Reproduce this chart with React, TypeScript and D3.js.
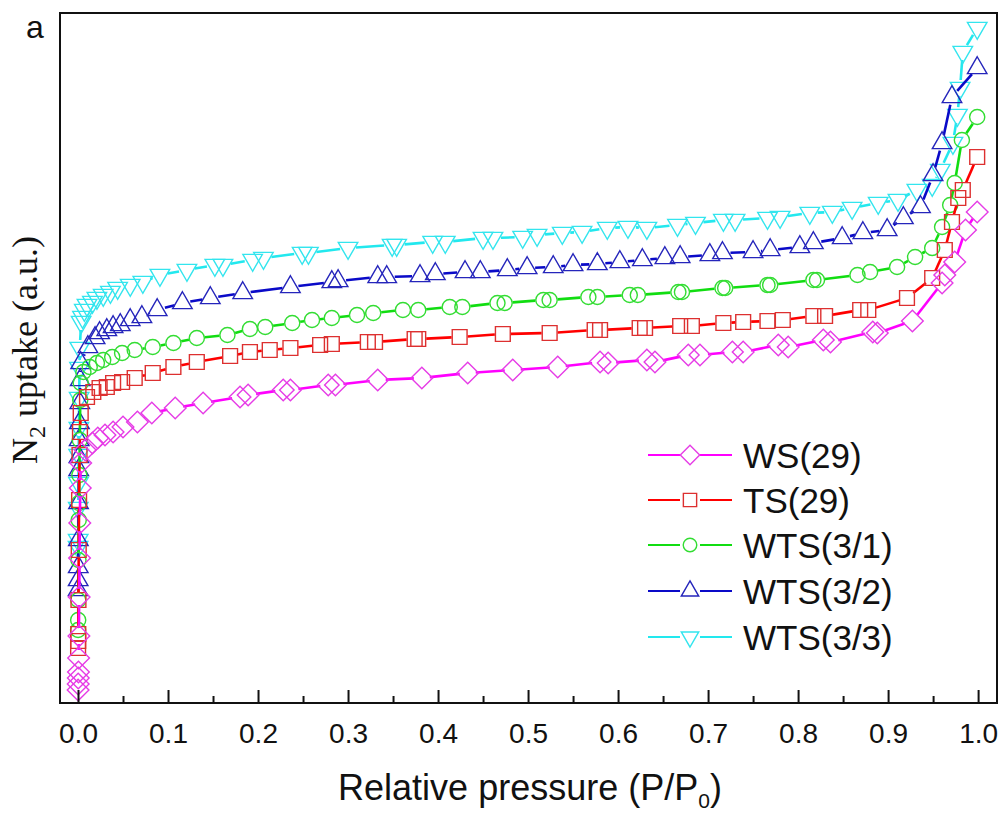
import React, { useEffect, useRef } from 'react';
import * as d3 from 'd3';

// relative pressure (P/P0) and N2 uptake (a.u.)
const wsP = [0.0001, 0.0002, 0.0003, 0.0005, 0.0007, 0.001, 0.0013, 0.0017, 0.002, 0.0025, 0.003,
  0.008, 0.016, 0.022, 0.030, 0.039, 0.050, 0.066, 0.082, 0.108, 0.139,
  0.180, 0.189, 0.228, 0.236, 0.278, 0.286, 0.333, 0.382, 0.433, 0.483,
  0.533, 0.580, 0.589, 0.632, 0.641, 0.678, 0.691, 0.727, 0.739, 0.778,
  0.789, 0.828, 0.836, 0.883, 0.888, 0.927, 0.960, 0.963, 0.974, 0.986, 0.999];
const wsV = [13, 19, 25, 31, 45, 67, 106, 145, 180, 215, 240,
  253, 260, 265, 268, 271, 276, 281, 290, 295, 300,
  306, 308, 313, 313, 318, 318, 323, 325, 330, 333,
  336, 341, 340, 343, 341, 348, 348, 351, 351, 358,
  356, 363, 361, 371, 370, 382, 420, 428, 441, 473, 491];

const tsP = [0.0001, 0.0002, 0.0003, 0.0005, 0.0008, 0.0012, 0.0017, 0.0022, 0.003,
  0.010, 0.017, 0.024, 0.032, 0.039, 0.049, 0.063, 0.083, 0.106, 0.132,
  0.169, 0.191, 0.213, 0.236, 0.269, 0.282, 0.322, 0.330, 0.374, 0.378,
  0.424, 0.472, 0.524, 0.574, 0.580, 0.624, 0.630, 0.669, 0.682, 0.717,
  0.739, 0.766, 0.783, 0.817, 0.830, 0.869, 0.878, 0.921, 0.949, 0.963,
  0.971, 0.978, 0.983, 0.999];
const tsV = [55, 62, 69, 103, 153, 203, 248, 271, 290,
  306, 311, 315, 316, 320, 321, 325, 330, 336, 341,
  347, 351, 353, 355, 358, 359, 361, 361, 364, 364,
  366, 369, 370, 373, 373, 375, 375, 377, 377, 380,
  381, 382, 383, 387, 387, 393, 393, 405, 425, 453,
  481, 505, 513, 546];

const wts31P = [0.0001, 0.0002, 0.0003, 0.0005, 0.0008, 0.0011, 0.0015, 0.002, 0.0025, 0.003,
  0.006, 0.013, 0.021, 0.028, 0.038, 0.049, 0.063, 0.083, 0.106, 0.132,
  0.166, 0.191, 0.208, 0.238, 0.260, 0.282, 0.310, 0.328, 0.361, 0.378,
  0.413, 0.427, 0.466, 0.474, 0.517, 0.524, 0.567, 0.577, 0.613, 0.622,
  0.667, 0.671, 0.716, 0.719, 0.766, 0.769, 0.817, 0.821, 0.866, 0.880,
  0.910, 0.930, 0.949, 0.960, 0.969, 0.974, 0.982, 0.999];
const wts31V = [73, 83, 103, 143, 183, 200, 228, 263, 303, 320,
  331, 336, 340, 343, 346, 350, 353, 356, 360, 365,
  368, 374, 376, 380, 383, 385, 388, 390, 393, 393,
  396, 396, 400, 400, 403, 403, 406, 406, 408, 408,
  411, 411, 415, 415, 418, 418, 423, 423, 428, 431,
  436, 446, 455, 476, 498, 520, 563, 586];

const wts32P = [0.0001, 0.0002, 0.0003, 0.0004, 0.0006, 0.0008, 0.001, 0.0013, 0.0016, 0.002, 0.0025, 0.003,
  0.011, 0.019, 0.024, 0.032, 0.039, 0.047, 0.058, 0.071, 0.088, 0.116,
  0.147, 0.183, 0.236, 0.282, 0.289, 0.333, 0.343, 0.380, 0.397, 0.430,
  0.447, 0.477, 0.499, 0.528, 0.550, 0.577, 0.602, 0.627, 0.652, 0.669,
  0.702, 0.716, 0.750, 0.769, 0.802, 0.817, 0.849, 0.872, 0.899, 0.917,
  0.936, 0.950, 0.960, 0.971, 0.999];
const wts32V = [113, 123, 136, 163, 200, 233, 246, 263, 280, 300, 323, 340,
  356, 365, 370, 373, 376, 378, 383, 386, 393, 400,
  405, 410, 416, 421, 422, 426, 426, 427, 429, 431,
  431, 433, 435, 436, 438, 439, 441, 443, 445, 446,
  448, 450, 451, 453, 456, 460, 465, 470, 473, 485,
  496, 528, 560, 606, 635];

const wts33P = [0.0001, 0.0002, 0.0003, 0.0005, 0.0007, 0.001, 0.0013, 0.0017, 0.002,
  0.0035, 0.005, 0.007, 0.010, 0.016, 0.021, 0.028, 0.036, 0.044, 0.058,
  0.072, 0.091, 0.121, 0.152, 0.161, 0.194, 0.206, 0.249, 0.256, 0.300,
  0.349, 0.354, 0.394, 0.408, 0.450, 0.461, 0.494, 0.510, 0.538, 0.560,
  0.588, 0.611, 0.632, 0.666, 0.686, 0.717, 0.730, 0.766, 0.780, 0.813,
  0.838, 0.860, 0.889, 0.911, 0.932, 0.949, 0.958, 0.972, 0.977, 0.980,
  0.983, 0.999];
const wts33V = [156, 163, 195, 220, 248, 275, 305, 335, 355,
  381, 386, 393, 398, 401, 405, 408, 411, 415, 418,
  421, 428, 433, 438, 438, 443, 445, 450, 450, 455,
  458, 458, 461, 461, 465, 465, 466, 468, 470, 471,
  475, 476, 475, 478, 480, 483, 483, 485, 486, 490,
  491, 495, 500, 503, 513, 518, 533, 560, 588, 615,
  651, 675];

const seriesNames = ['WS(29)', 'TS(29)', 'WTS(3/1)', 'WTS(3/2)', 'WTS(3/3)'];
const xTicks = [0, 0.1, 0.2, 0.3, 0.4, 0.5, 0.6, 0.7, 0.8, 0.9, 1.0];
const xMinorTicks = [0.05, 0.15, 0.25, 0.35, 0.45, 0.55, 0.65, 0.75, 0.85, 0.95];

const App = () => {
  const svgRef = useRef(null);

  useEffect(() => {
    const W = 1003;
    const H = 814;
    const svg = d3.select(svgRef.current);
    svg.selectAll('*').remove();
    svg.attr('width', W).attr('height', H).attr('viewBox', `0 0 ${W} ${H}`);

    const left = 60, right = 997, top = 13, bottom = 703;
    const sans = "'Liberation Sans', Arial, sans-serif";
    const serif = "'Liberation Serif', 'Times New Roman', serif";

    const x = d3.scaleLinear().domain([-0.02, 1.021]).range([left, right]);
    const y = d3.scaleLinear().domain([0, 690]).range([bottom, top]);

    const styles = [
      { color: '#ff00ff', mark: '#e63ce6', shape: d3.symbolSquare, size: 235, rot: 45 },
      { color: '#ff0000', mark: '#dd3030', shape: d3.symbolSquare, size: 220, rot: 0 },
      { color: '#11dd11', mark: '#33dd33', shape: d3.symbolCircle, size: 180, rot: 0 },
      { color: '#0a0ac8', mark: '#2525bb', shape: d3.symbolTriangle, size: 165, rot: 0 },
      { color: '#22e8ee', mark: '#33e5ee', shape: d3.symbolTriangle, size: 165, rot: 180 },
    ];
    const pressures = [wsP, tsP, wts31P, wts32P, wts33P];
    const uptakes = [wsV, tsV, wts31V, wts32V, wts33V];

    svg.append('rect').attr('width', W).attr('height', H).attr('fill', '#fff');

    const plot = svg.append('g');
    const gap = 8;

    // draw last series first so WS(29) sits on top, as in the figure
    d3.range(seriesNames.length).reverse().forEach(i => {
      const st = styles[i];
      const pts = pressures[i].map((p, k) => [x(p), y(uptakes[i][k])]);
      const g = plot.append('g');

      // line segments broken around the hollow markers
      const segs = [];
      for (let k = 1; k < pts.length; k++) {
        const [x0, y0] = pts[k - 1];
        const [x1, y1] = pts[k];
        const d = Math.hypot(x1 - x0, y1 - y0);
        if (d <= gap * 2) continue;
        const ux = (x1 - x0) / d, uy = (y1 - y0) / d;
        segs.push([x0 + ux * gap, y0 + uy * gap, x1 - ux * gap, y1 - uy * gap]);
      }
      g.selectAll('line')
        .data(segs)
        .enter()
        .append('line')
        .attr('x1', d => d[0]).attr('y1', d => d[1])
        .attr('x2', d => d[2]).attr('y2', d => d[3])
        .attr('stroke', st.color)
        .attr('stroke-width', 2.6);

      const sym = d3.symbol().type(st.shape).size(st.size);
      g.selectAll('path')
        .data(pts)
        .enter()
        .append('path')
        .attr('d', sym)
        .attr('transform', d => `translate(${d[0]},${d[1]}) rotate(${st.rot})`)
        .attr('fill', 'none')
        .attr('stroke', st.mark)
        .attr('stroke-width', 1.4);
    });

    // frame
    svg.append('rect')
      .attr('x', left).attr('y', top)
      .attr('width', right - left).attr('height', bottom - top)
      .attr('fill', 'none')
      .attr('stroke', '#111')
      .attr('stroke-width', 2);

    // x axis, ticks pointing inward
    const ax = svg.append('g')
      .attr('transform', `translate(0,${bottom})`)
      .call(d3.axisBottom(x).tickValues(xTicks).tickSizeInner(-13).tickSizeOuter(0)
        .tickPadding(20).tickFormat(d3.format('.1f')));
    ax.select('.domain').remove();
    ax.selectAll('line').attr('stroke', '#111').attr('stroke-width', 2);
    ax.selectAll('text')
      .style('font-family', sans)
      .style('font-size', '28px')
      .attr('fill', '#111');

    const axMinor = svg.append('g')
      .attr('transform', `translate(0,${bottom})`)
      .call(d3.axisBottom(x).tickValues(xMinorTicks).tickSizeInner(-7).tickSizeOuter(0).tickFormat(() => ''));
    axMinor.select('.domain').remove();
    axMinor.selectAll('line').attr('stroke', '#111').attr('stroke-width', 2);

    // axis titles
    const xl = svg.append('text')
      .attr('x', 530).attr('y', 800)
      .attr('text-anchor', 'middle')
      .style('font-family', sans)
      .style('font-size', '36px')
      .attr('fill', '#111');
    xl.append('tspan').text('Relative pressure (P/P');
    xl.append('tspan').attr('dy', 8).style('font-size', '21px').text('0');
    xl.append('tspan').attr('dy', -8).text(')');

    const yl = svg.append('text')
      .attr('transform', 'translate(37,350) rotate(-90)')
      .attr('text-anchor', 'middle')
      .style('font-family', serif)
      .style('font-size', '36px')
      .attr('fill', '#111');
    yl.append('tspan').text('N');
    yl.append('tspan').attr('dy', 8).style('font-size', '24px').text('2');
    yl.append('tspan').attr('dy', -8).text(' uptake (a.u.)');

    svg.append('text')
      .attr('x', 26).attr('y', 38)
      .style('font-family', sans)
      .style('font-size', '32px')
      .attr('fill', '#111')
      .text('a');

    // legend
    const rows = [455, 500, 545, 591, 637];
    seriesNames.forEach((name, i) => {
      const st = styles[i];
      const g = svg.append('g').attr('transform', `translate(0,${rows[i]})`);
      g.append('line').attr('x1', 648).attr('x2', 680).attr('stroke', st.color).attr('stroke-width', 2);
      g.append('line').attr('x1', 700).attr('x2', 732).attr('stroke', st.color).attr('stroke-width', 2);
      g.append('path')
        .attr('d', d3.symbol().type(st.shape).size(st.size * 0.8)())
        .attr('transform', `translate(690,0) rotate(${st.rot})`)
        .attr('fill', 'none')
        .attr('stroke', st.mark)
        .attr('stroke-width', 1.4);
      g.append('text')
        .attr('x', 743).attr('dy', '0.36em')
        .style('font-family', sans)
        .style('font-size', '35px')
        .attr('fill', '#111')
        .text(name);
    });
  }, []);

  return <svg ref={svgRef} style={{ position: 'absolute', left: 0, top: 0 }} />;
};

export default App;
